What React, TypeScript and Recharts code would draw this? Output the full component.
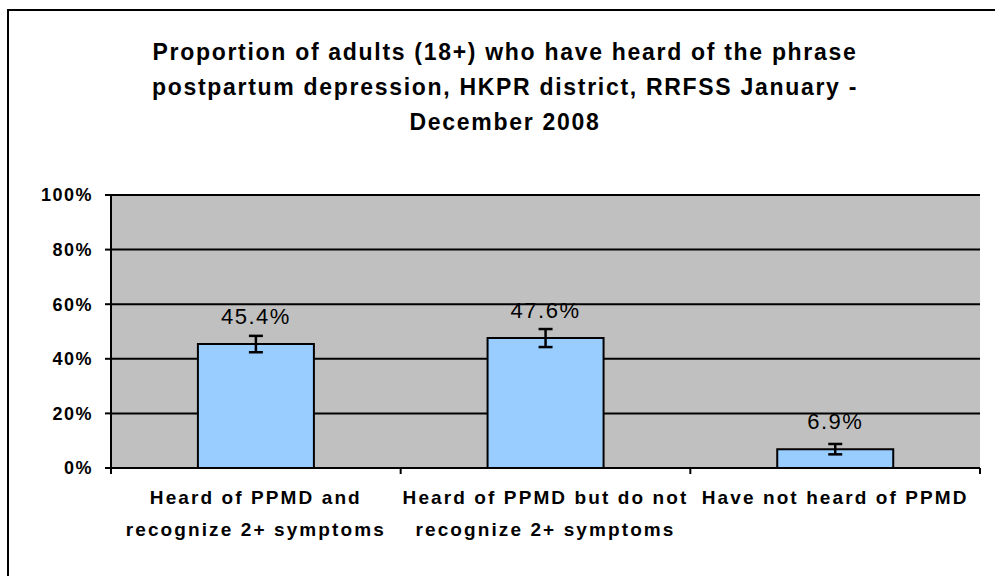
import React from "react";
import {
  BarChart,
  Bar,
  XAxis,
  YAxis,
  CartesianGrid,
  ErrorBar,
  LabelList,
} from "recharts";

const titleLines = [
  "Proportion of adults (18+) who have heard of the phrase",
  "postpartum depression, HKPR district, RRFSS January -",
  "December 2008",
];

const categories = [
  "Heard of PPMD and\nrecognize 2+ symptoms",
  "Heard of PPMD but do not\nrecognize 2+ symptoms",
  "Have not heard of PPMD",
];
const values = [45.4, 47.6, 6.9];
const errors = [3.0, 3.3, 1.9];
const yTicks = [0, 20, 40, 60, 80, 100];

const data = categories.map((name, i) => ({
  name,
  value: values[i],
  err: errors[i],
}));

const FONT = '"Liberation Sans", Arial, sans-serif';

function CategoryTick(props: any) {
  const { x, y, payload, index } = props;
  const half = payload.offset ?? 0;
  const lines = String(payload.value).split("\n");
  const last = index === categories.length - 1;
  return (
    <g>
      <line x1={x - half} x2={x - half} y1={y} y2={y + 6} stroke="#000" strokeWidth={2} />
      {last && (
        <line x1={x + half} x2={x + half} y1={y} y2={y + 6} stroke="#000" strokeWidth={2} />
      )}
      <text
        x={x}
        y={y + 36}
        textAnchor="middle"
        fontFamily={FONT}
        fontWeight="bold"
        fontSize={19}
        letterSpacing={2.1}
        fill="#000"
      >
        {lines.map((l, i) => (
          <tspan key={i} x={x} dy={i === 0 ? 0 : 32}>
            {l}
          </tspan>
        ))}
      </text>
    </g>
  );
}

function ValueLabel(props: any) {
  const { x, y, width, value } = props;
  return (
    <text
      x={x + width / 2}
      y={y - 20}
      textAnchor="middle"
      fontFamily={FONT}
      fontSize={22}
      letterSpacing={1.5}
      fill="#000"
    >
      {`${value}%`}
    </text>
  );
}

export default function App() {
  return (
    <div
      style={{
        position: "fixed",
        left: 0,
        top: 0,
        width: 995,
        height: 576,
        overflow: "hidden",
        background: "#fff",
      }}
    >
      <div
        style={{
          position: "absolute",
          left: 7,
          top: 9,
          width: 1000,
          height: 600,
          borderLeft: "2px solid #000",
          borderTop: "2px solid #000",
        }}
      />
      <svg
        width={995}
        height={576}
        style={{ position: "absolute", left: 0, top: 0, pointerEvents: "none" }}
      >
        {titleLines.map((t, i) => (
          <text
            key={i}
            x={505}
            y={60 + i * 35}
            textAnchor="middle"
            fontFamily={FONT}
            fontWeight="bold"
            fontSize={23}
            letterSpacing={1.7}
            fill="#000"
          >
            {t}
          </text>
        ))}
      </svg>
      <div style={{ position: "absolute", left: 0, top: 0 }}>
        <BarChart
          width={995}
          height={576}
          data={data}
          margin={{ top: 195, right: 15, left: 11, bottom: 28 }}
          barCategoryGap="30%"
        >
          <CartesianGrid
            vertical={false}
            stroke="#000"
            strokeWidth={2}
            fill="#C0C0C0"
            fillOpacity={1}
          />
          <XAxis
            dataKey="name"
            height={80}
            interval={0}
            tickLine={false}
            tickSize={0}
            tickMargin={0}
            axisLine={{ stroke: "#000", strokeWidth: 2 }}
            tick={<CategoryTick />}
          />
          <YAxis
            width={100}
            domain={[0, 100]}
            ticks={yTicks}
            interval={0}
            tickFormatter={(v) => `${v}%`}
            tickSize={6}
            tickMargin={12}
            axisLine={{ stroke: "#000", strokeWidth: 2 }}
            tickLine={{ stroke: "#000", strokeWidth: 2 }}
            tick={{
              fill: "#000",
              fontFamily: FONT,
              fontWeight: "bold",
              fontSize: 18,
              letterSpacing: 1.5,
            }}
          />
          <YAxis
            yAxisId="frame"
            orientation="right"
            width={0}
            domain={[0, 100]}
            tick={false}
            tickLine={false}
            axisLine={{ stroke: "#000", strokeWidth: 2 }}
          />
          <Bar
            dataKey="value"
            fill="#99CCFF"
            stroke="#000"
            strokeWidth={2}
            isAnimationActive={false}
          >
            <ErrorBar
              dataKey="err"
              width={7}
              stroke="#000"
              strokeWidth={2.5}
              direction="y"
            />
            <LabelList dataKey="value" content={<ValueLabel />} />
          </Bar>
        </BarChart>
      </div>
    </div>
  );
}
